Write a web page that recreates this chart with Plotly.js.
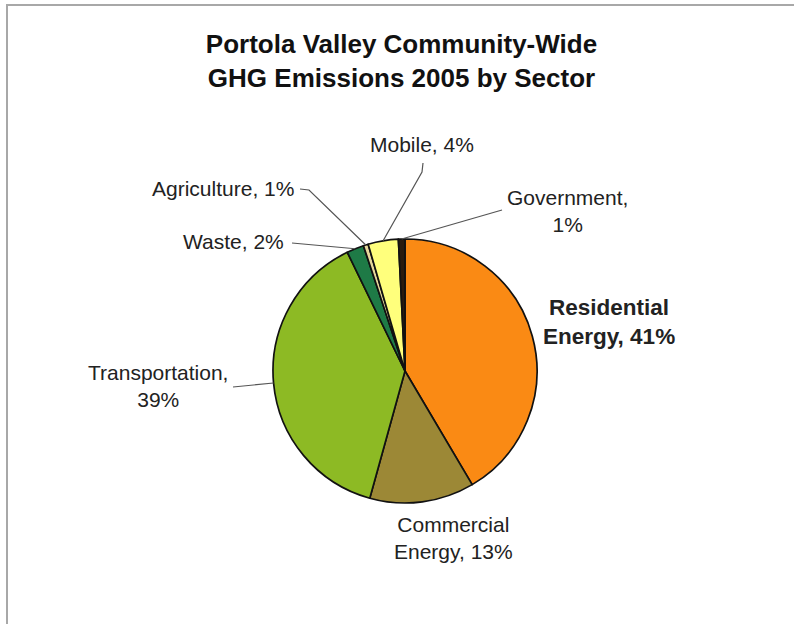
<!DOCTYPE html>
<html>
<head>
<meta charset="utf-8">
<script src="https://cdn.plot.ly/plotly-3.0.1.min.js"></script>
<style>html,body{margin:0;padding:0;background:#fff;}#chart{width:794px;height:624px;}</style>
</head>
<body>
<div id="chart"></div>
<script>
// ---- data ----
const sectors = ['Residential Energy','Commercial Energy','Transportation','Waste','Agriculture','Mobile','Government'];
const shares = [41.5, 12.8, 38.5, 2.1, 0.6, 3.7, 0.8];
const sectorLabels = ['<b>Residential<br>Energy, 41%</b>','Commercial<br>Energy, 13%','Transportation,<br>39%','Waste, 2%','Agriculture, 1%','Mobile, 4%','Government,<br>1%'];
const sliceColors = ['#FA8A14','#9C8836','#8DBA24','#1E7A46','#E6D79A','#FFFF7C','#2A1C0E'];

// ---- layout helpers (pixels -> paper) ----
const W = 794, H = 624;
const px = x => x / W;
const py = y => 1 - y / H;
const CX = 405, CY = 371, R = 132;
const domX = [px(CX - R), px(CX + R)];
const domY = [py(CY + R), py(CY - R)];

// label anchor positions (pixels) and leader-line start points
const labelPos = [[609,322],[453,538],[158,386],[233.5,242],[223,188],[421.5,144],[567.5,211]];
const labelFont = [22.5,21,21,21,21,21,21];
const leaderStart = [null, null, [[233,387]], [[292,243]], [[300,189],[309,190]], [[423,163],[422,172]], [[502,210]]];

// mid angles of slices (clockwise from 12 o'clock)
const total = shares.reduce((a,b)=>a+b,0);
let acc = 0;
const midAngles = shares.map(v => { const m = (acc + v/2) / total * 2 * Math.PI; acc += v; return m; });

const annotations = sectorLabels.map((t,i) => ({
  text: t, x: px(labelPos[i][0]), y: py(labelPos[i][1]), xref:'paper', yref:'paper',
  xanchor:'center', yanchor:'middle', showarrow:false, align:'center',
  font:{family:'Liberation Sans, Arial, sans-serif', size:labelFont[i], color:'#222'}
}));

const shapes = [];
leaderStart.forEach((pts,i) => {
  if (!pts) return;
  const a = midAngles[i];
  const ex = CX + R * Math.sin(a), ey = CY - R * Math.cos(a);
  const all = pts.concat([[ex,ey]]);
  const d = all.map((p,k) => (k===0?'M':'L') + px(p[0]) + ',' + py(p[1])).join(' ');
  shapes.push({type:'path', xref:'paper', yref:'paper', path:d, line:{color:'#555', width:1.2}});
});
// outer frame
shapes.push({type:'rect', xref:'paper', yref:'paper', x0:px(7), x1:px(820), y0:py(5), y1:py(660), line:{color:'#A8A8A8', width:2}, layer:'below'});

const trace = {
  type:'pie', labels:sectors, values:shares, sort:false, direction:'clockwise', rotation:0,
  marker:{colors:sliceColors, line:{color:'#111', width:1.7}},
  textinfo:'none', hoverinfo:'label+percent', showlegend:false,
  domain:{x:domX, y:domY}
};

const layout = {
  width:W, height:H, margin:{l:0,r:0,t:0,b:0}, paper_bgcolor:'#fff', showlegend:false,
  title:{text:'<b>Portola Valley Community-Wide<br>GHG Emissions 2005 by Sector</b>', x:px(401.5), xanchor:'center', xref:'paper',
         y:py(53), yref:'paper', yanchor:'middle', font:{family:'Liberation Sans, Arial, sans-serif', size:26, color:'#111'}},
  annotations, shapes
};
Plotly.newPlot('chart',[trace],layout,{displayModeBar:false});
</script>
</body>
</html>
